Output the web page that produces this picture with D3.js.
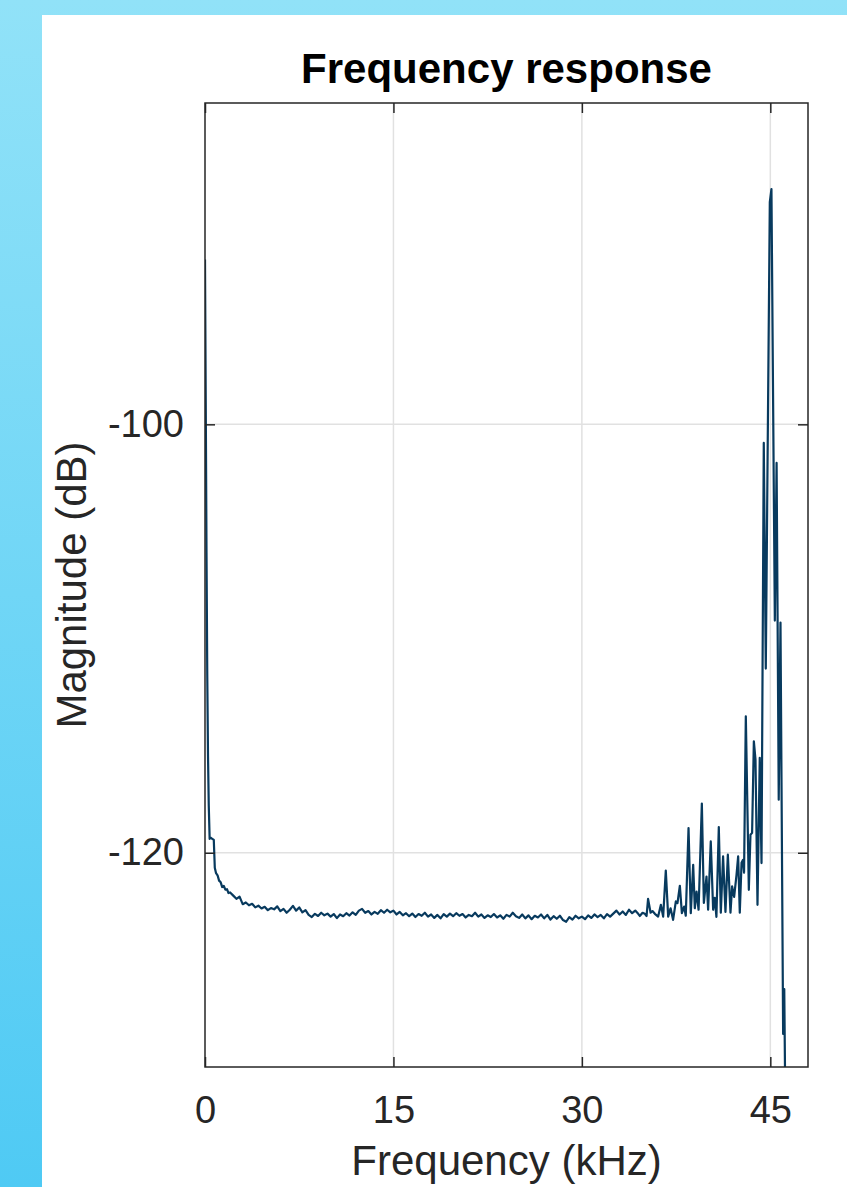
<!DOCTYPE html>
<html>
<head>
<meta charset="utf-8">
<script src="https://cdn.jsdelivr.net/npm/d3@7"></script>
<style>
  html, body { margin: 0; padding: 0; background: #fff; }
  svg { display: block; }
  text { font-family: "Liberation Sans", Arial, Helvetica, sans-serif; fill: #262626; }
</style>
</head>
<body>
<svg id="chart" width="847" height="1187"></svg>
<script>
// frequency axis (kHz) and magnitude (dB)
const onsetFreq = [0.00, 0.06, 0.12, 0.18, 0.24, 0.30, 0.37, 0.45, 0.58, 0.70, 0.78, 0.88, 1.00, 1.12, 1.25, 1.37, 1.50, 1.62, 1.75, 1.87, 2.00];
const onsetDb   = [-92.3, -99.0, -106.0, -111.7, -115.5, -117.8, -119.35, -119.3, -119.35, -119.4, -120.7, -120.95, -121.05, -121.3, -121.38, -121.6, -121.55, -121.72, -121.7, -121.88, -121.85];

const floorFreq = [2.25, 2.5, 2.75, 3.0, 3.25, 3.5, 3.75, 4.0, 4.25, 4.5, 4.75, 5.0, 5.25, 5.5, 5.75, 6.0, 6.25, 6.5, 6.75, 7.0,
  7.25, 7.5, 7.75, 8.0, 8.25, 8.5, 8.75, 9.0, 9.25, 9.5, 9.75, 10.0, 10.25, 10.5, 10.75, 11.0, 11.25, 11.5, 11.75, 12.0,
  12.25, 12.5, 12.75, 13.0, 13.25, 13.5, 13.75, 14.0, 14.25, 14.5, 14.75, 15.0, 15.25, 15.5, 15.75, 16.0, 16.25, 16.5, 16.75, 17.0,
  17.25, 17.5, 17.75, 18.0, 18.25, 18.5, 18.75, 19.0, 19.25, 19.5, 19.75, 20.0, 20.25, 20.5, 20.75, 21.0, 21.25, 21.5, 21.75, 22.0,
  22.25, 22.5, 22.75, 23.0, 23.25, 23.5, 23.75, 24.0, 24.25, 24.5, 24.75, 25.0, 25.25, 25.5, 25.75, 26.0, 26.25, 26.5, 26.75, 27.0,
  27.25, 27.5, 27.75, 28.0, 28.25, 28.5, 28.75, 29.0, 29.25, 29.5, 29.75, 30.0, 30.25, 30.5, 30.75, 31.0, 31.25, 31.5, 31.75, 32.0,
  32.25, 32.5, 32.75, 33.0, 33.25, 33.5, 33.75, 34.0, 34.25, 34.5];
const floorDb = [-122.00, -122.15, -122.05, -122.40, -122.32, -122.45, -122.38, -122.55, -122.47, -122.60, -122.52, -122.68, -122.58, -122.64, -122.50, -122.72, -122.62, -122.80, -122.66, -122.48,
  -122.70, -122.55, -122.78, -122.68, -122.90, -123.00, -122.85, -122.95, -122.80, -122.92, -122.84, -122.98, -122.86, -123.05, -122.88, -122.96, -122.82, -122.93, -122.78, -122.90,
  -122.70, -122.62, -122.80, -122.72, -122.88, -122.76, -122.85, -122.68, -122.80, -122.66, -122.78, -122.70, -122.88, -122.76, -122.92, -122.82, -122.96, -122.84, -123.00, -122.86,
  -122.94, -122.80, -122.98, -122.88, -123.04, -122.90, -123.06, -122.86, -122.98, -122.84, -122.96, -122.82, -122.94, -122.86, -123.02, -122.90, -122.96, -122.80, -122.98, -122.88,
  -123.04, -122.92, -123.00, -122.86, -123.02, -122.92, -123.08, -122.90, -122.98, -122.80, -122.96, -123.04, -122.88, -123.06, -122.92, -123.10, -122.94, -123.02, -122.88, -123.06,
  -122.90, -123.12, -122.96, -123.08, -122.94, -123.14, -123.22, -123.00, -123.12, -122.94, -123.06, -122.98, -123.10, -122.92, -123.04, -122.88, -123.00, -122.90, -123.06, -122.86,
  -122.98, -122.84, -122.70, -122.88, -122.74, -122.90, -122.66, -122.82, -122.70, -122.86];

const toneFreq = [34.61, 34.83, 35.01, 35.15, 35.27, 35.47, 35.62, 35.81, 36.07, 36.29, 36.47, 36.68, 36.87, 37.06, 37.26, 37.48, 37.61, 37.80, 37.96, 38.14,
  38.27, 38.49, 38.67, 38.86, 38.99, 39.13, 39.29, 39.55, 39.71, 39.92, 40.05, 40.26, 40.45, 40.58, 40.71, 40.90, 41.06, 41.24, 41.43, 41.62,
  41.83, 41.96, 42.12, 42.31, 42.44, 42.57, 42.71, 42.83, 42.91, 43.05, 43.29, 43.42, 43.55, 43.69, 43.82, 43.98, 44.16, 44.30, 44.48, 44.64,
  44.96, 45.09, 45.36, 45.50, 45.67, 45.81, 46.02, 46.11, 46.23];
const toneDb = [-122.95, -122.80, -122.85, -122.95, -122.15, -122.80, -122.72, -122.85, -122.98, -122.43, -122.98, -120.83, -122.98, -122.59, -123.13, -122.27, -122.35, -121.54, -122.82, -122.51,
  -122.94, -118.85, -122.82, -120.56, -122.59, -121.81, -122.66, -117.70, -122.34, -121.11, -122.66, -119.47, -122.66, -122.10, -122.99, -118.80, -122.80, -120.17, -122.76, -120.09,
  -122.80, -121.57, -122.06, -121.03, -120.17, -122.80, -120.47, -120.33, -120.93, -113.63, -121.73, -119.16, -119.07, -114.80, -115.65, -122.43, -115.57, -120.48, -100.87, -111.40,
  -89.63, -89.02, -109.16, -101.80, -117.52, -109.25, -128.46, -126.36, -134.0];

const xTicks = [0, 15, 30, 45];
const yTicks = [-120, -100];

const freqKHz = onsetFreq.concat(floorFreq, toneFreq);
const magDb = onsetDb.concat(floorDb, toneDb);
const points = freqKHz.map((f, i) => [f, magDb[i]]);

const W = 847, H = 1187;
const margin = {top: 103, right: 39, bottom: 120, left: 205};
const iw = W - margin.left - margin.right;
const ih = H - margin.top - margin.bottom;

const svg = d3.select('#chart');

// blue gradient frame behind the white figure
const defs = svg.append('defs');
const grad = defs.append('linearGradient')
  .attr('id', 'bg').attr('x1', 0).attr('y1', 0).attr('x2', 0).attr('y2', 1);
grad.append('stop').attr('offset', '0%').attr('stop-color', '#91e2f8');
grad.append('stop').attr('offset', '100%').attr('stop-color', '#4fcaf4');
svg.append('rect').attr('width', W).attr('height', H).attr('fill', 'url(#bg)');
svg.append('rect').attr('x', 42).attr('y', 15).attr('width', W - 42).attr('height', H - 15).attr('fill', '#fff');

defs.append('clipPath').attr('id', 'plotclip')
  .append('rect').attr('width', iw).attr('height', ih);

const x = d3.scaleLinear().domain([0, 48]).range([0, iw]);
const y = d3.scaleLinear().domain([-130, -85]).range([ih, 0]);

const g = svg.append('g').attr('transform', `translate(${margin.left},${margin.top})`);

// grid
g.append('g').selectAll('line').data(xTicks.filter(d => d > 0)).enter().append('line')
  .attr('x1', d => x(d)).attr('x2', d => x(d)).attr('y1', 0).attr('y2', ih)
  .attr('stroke', '#e1e1e1').attr('stroke-width', 1.5);
g.append('g').selectAll('line').data(yTicks).enter().append('line')
  .attr('y1', d => y(d)).attr('y2', d => y(d)).attr('x1', 0).attr('x2', iw)
  .attr('stroke', '#e1e1e1').attr('stroke-width', 1.5);

// data line
const line = d3.line().x(d => x(d[0])).y(d => y(d[1]));
g.append('path')
  .datum(points)
  .attr('clip-path', 'url(#plotclip)')
  .attr('fill', 'none')
  .attr('stroke', '#083a5e')
  .attr('stroke-width', 2.2)
  .attr('stroke-linejoin', 'round')
  .attr('d', line);

// axes with inward ticks on all four sides
const styleAxis = sel => {
  sel.select('.domain').remove();
  sel.selectAll('.tick line').attr('stroke', '#262626').attr('stroke-width', 1.5);
  sel.selectAll('.tick text').attr('fill', '#262626').style('font-size', '38px');
};

g.append('g').attr('transform', `translate(0,${ih})`)
  .call(d3.axisBottom(x).tickValues(xTicks).tickSize(-10).tickPadding(29).tickFormat(d3.format('d')))
  .call(styleAxis);
g.append('g')
  .call(d3.axisTop(x).tickValues(xTicks).tickSize(-10).tickFormat(''))
  .call(styleAxis);
g.append('g')
  .call(d3.axisLeft(y).tickValues(yTicks).tickSize(-10).tickPadding(21).tickFormat(d => d))
  .call(styleAxis);
g.append('g').attr('transform', `translate(${iw},0)`)
  .call(d3.axisRight(y).tickValues(yTicks).tickSize(-10).tickFormat(''))
  .call(styleAxis);

g.append('rect')
  .attr('width', iw).attr('height', ih)
  .attr('fill', 'none').attr('stroke', '#262626').attr('stroke-width', 1.5);

// titles
svg.append('text')
  .attr('x', margin.left + iw / 2).attr('y', 83)
  .attr('text-anchor', 'middle')
  .style('font-size', '42px').style('font-weight', 'bold').style('fill', '#000')
  .text('Frequency response');

svg.append('text')
  .attr('x', margin.left + iw / 2).attr('y', 1175)
  .attr('text-anchor', 'middle')
  .style('font-size', '42px')
  .text('Frequency (kHz)');

svg.append('text')
  .attr('transform', `translate(86,${margin.top + ih / 2}) rotate(-90)`)
  .attr('text-anchor', 'middle')
  .style('font-size', '42px')
  .text('Magnitude (dB)');
</script>
</body>
</html>
